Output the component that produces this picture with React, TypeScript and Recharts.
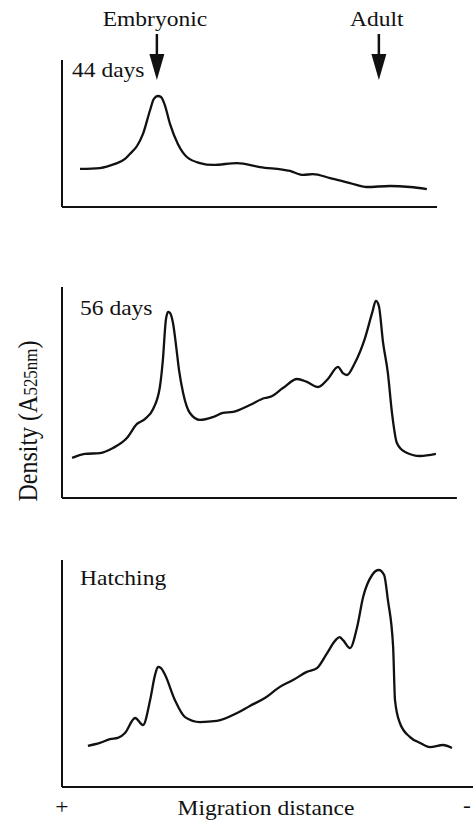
import React from "react";
import { LineChart, Line, XAxis, YAxis, ReferenceDot } from "recharts";

// migration distance (0 = left axis, 100 = end of top panel axis) vs density (0-100 per panel)
const days44 = [
  [4.8, 25.9], [10.1, 26.5], [14.1, 29.3], [16.8, 32.7], [18.1, 36.1], [20.0, 41.5],
  [21.6, 49.7], [23.5, 66.0], [24.5, 73.5], [25.6, 75.5], [26.4, 74.8], [27.5, 68.7],
  [28.8, 56.5], [30.9, 42.9], [33.3, 34.0], [36.8, 29.9], [40.3, 28.6], [46.7, 29.9],
  [52.8, 27.2], [60.8, 24.5], [64.3, 21.8], [66.9, 22.4], [71.5, 19.7], [76.8, 16.3],
  [81.3, 13.6], [87.5, 14.3], [92.8, 13.6], [97.3, 12.2],
];

const days56 = [
  [2.7, 19.0], [6.1, 20.9], [10.1, 21.3], [13.6, 23.7], [17.3, 28.4], [20.0, 35.1],
  [22.1, 37.4], [24.3, 42.2], [26.1, 52.6], [26.9, 65.4], [27.7, 84.4], [28.3, 88.2],
  [28.8, 87.7], [29.6, 82.9], [30.4, 72.5], [31.2, 60.7], [32.3, 49.8], [34.1, 40.3],
  [36.8, 37.0], [40.3, 38.4], [42.9, 40.3], [45.6, 40.8], [50.1, 44.1], [54.1, 47.4],
  [55.5, 47.9], [58.9, 52.1], [62.7, 56.4], [65.3, 55.0], [68.3, 52.6], [70.9, 56.4],
  [73.6, 62.1], [74.9, 59.2], [76.0, 58.3], [78.1, 64.0], [80.8, 75.8], [82.7, 87.7],
  [83.7, 93.4], [84.5, 91.0], [85.6, 73.9], [86.9, 59.2], [88.0, 40.3], [89.3, 26.1],
  [91.5, 21.8], [95.5, 19.9], [99.7, 20.9],
];

const hatching = [
  [6.9, 18.1], [10.1, 19.4], [12.8, 21.1], [14.9, 21.6], [16.8, 23.8], [19.5, 30.4],
  [21.6, 27.3], [23.5, 38.3], [24.8, 49.3], [25.6, 52.9], [26.4, 52.4], [27.5, 49.3],
  [30.1, 38.3], [32.8, 30.8], [36.8, 28.6], [41.3, 29.1], [46.7, 32.6], [50.1, 35.7],
  [54.1, 39.2], [58.1, 44.1], [61.6, 47.1], [65.3, 50.7], [68.0, 52.4], [70.7, 59.0],
  [72.9, 64.6], [74.0, 66.0], [75.0, 64.6], [76.8, 61.2], [78.7, 70.5], [80.3, 83.7],
  [82.7, 93.4], [84.5, 95.6], [85.9, 93.4], [86.9, 82.4], [88.3, 61.7], [88.8, 38.3],
  [90.1, 28.2], [92.8, 22.0], [95.5, 19.4], [98.1, 17.6], [101.6, 18.5], [104.0, 17.2],
];

const markerLabels = ["Embryonic", "Adult"];
const markerX = [25.3, 84.5];
const markerTipY = 86.4;

const SERIF = "'Liberation Serif', 'DejaVu Serif', serif";
const INK = "#111";
const PX_PER_UNIT = 3.75;
const LEFT = 62;

const toRows = (pts: number[][]) => pts.map(([x, y]) => ({ x, y }));

function Arrow(props: any) {
  const { cx, cy, label } = props;
  if (cx == null || cy == null) return null;
  return (
    <g>
      <line x1={cx} x2={cx} y1={cy - 46} y2={cy - 24} stroke={INK} strokeWidth={2.5} />
      <polygon points={`${cx - 7.5},${cy - 26} ${cx + 7.5},${cy - 26} ${cx},${cy}`} fill={INK} />
      <g transform={`translate(${cx - 2},${cy - 54}) scale(1.12,1)`}>
        <text textAnchor="middle" style={{ fontFamily: SERIF, fontSize: 21 }} fill={INK}>
          {label}
        </text>
      </g>
    </g>
  );
}

function Panel({
  rows,
  domainMax,
  top,
  plotH,
  marginTop = 0,
  children,
}: {
  rows: { x: number; y: number }[];
  domainMax: number;
  top: number;
  plotH: number;
  marginTop?: number;
  children?: React.ReactNode;
}) {
  const width = LEFT + domainMax * PX_PER_UNIT;
  const height = marginTop + plotH + 2;
  return (
    <div style={{ position: "absolute", left: 0, top: top - marginTop }}>
      <LineChart
        width={width}
        height={height}
        data={rows}
        margin={{ top: marginTop, right: 0, left: LEFT - 1, bottom: 1 }}
      >
        <XAxis
          type="number"
          dataKey="x"
          domain={[0, domainMax]}
          allowDataOverflow
          tick={false}
          tickLine={false}
          height={1}
          axisLine={{ stroke: INK, strokeWidth: 2 }}
        />
        <YAxis
          type="number"
          domain={[0, 100]}
          allowDataOverflow
          tick={false}
          tickLine={false}
          width={1}
          axisLine={{ stroke: INK, strokeWidth: 2 }}
        />
        <Line
          type="monotone"
          dataKey="y"
          stroke={INK}
          strokeWidth={2.3}
          dot={false}
          isAnimationActive={false}
        />
        {children}
      </LineChart>
    </div>
  );
}

function Label({ x, y, text, anchor = "start" }: { x: number; y: number; text: string; anchor?: string }) {
  return (
    <g transform={`translate(${x},${y}) scale(1.12,1)`}>
      <text textAnchor={anchor as any} style={{ fontFamily: SERIF, fontSize: 21 }} fill={INK}>
        {text}
      </text>
    </g>
  );
}

export default function App() {
  return (
    <div
      style={{
        position: "absolute",
        left: 0,
        top: 0,
        width: 473,
        height: 820,
        background: "#fff",
        overflow: "hidden",
        fontFamily: SERIF,
      }}
    >
      <Panel rows={toRows(days44)} domainMax={100} top={60} plotH={147} marginTop={60}>
        {markerX.map((mx, i) => (
          <ReferenceDot
            key={markerLabels[i]}
            x={mx}
            y={markerTipY}
            r={0}
            ifOverflow="visible"
            shape={(p: any) => <Arrow {...p} label={markerLabels[i]} />}
          />
        ))}
      </Panel>
      <Panel rows={toRows(days56)} domainMax={105.3} top={287} plotH={211} />
      <Panel rows={toRows(hatching)} domainMax={109.6} top={560} plotH={227} />

      <svg
        width={473}
        height={820}
        style={{ position: "absolute", left: 0, top: 0, pointerEvents: "none" }}
      >
        <Label x={72} y={77} text="44 days" />
        <Label x={80} y={315} text="56 days" />
        <Label x={80} y={585} text="Hatching" />
        <Label x={266} y={815} text="Migration distance" anchor="middle" />
        <Label x={62} y={814} text="+" anchor="middle" />
        <Label x={467} y={812} text="-" anchor="middle" />
        <g transform="translate(37,421) scale(1.12,1) rotate(-90)">
          <text textAnchor="middle" style={{ fontFamily: SERIF, fontSize: 24 }} fill={INK}>
            Density (A<tspan style={{ fontSize: 17 }}>525nm</tspan>)
          </text>
        </g>
      </svg>
    </div>
  );
}
